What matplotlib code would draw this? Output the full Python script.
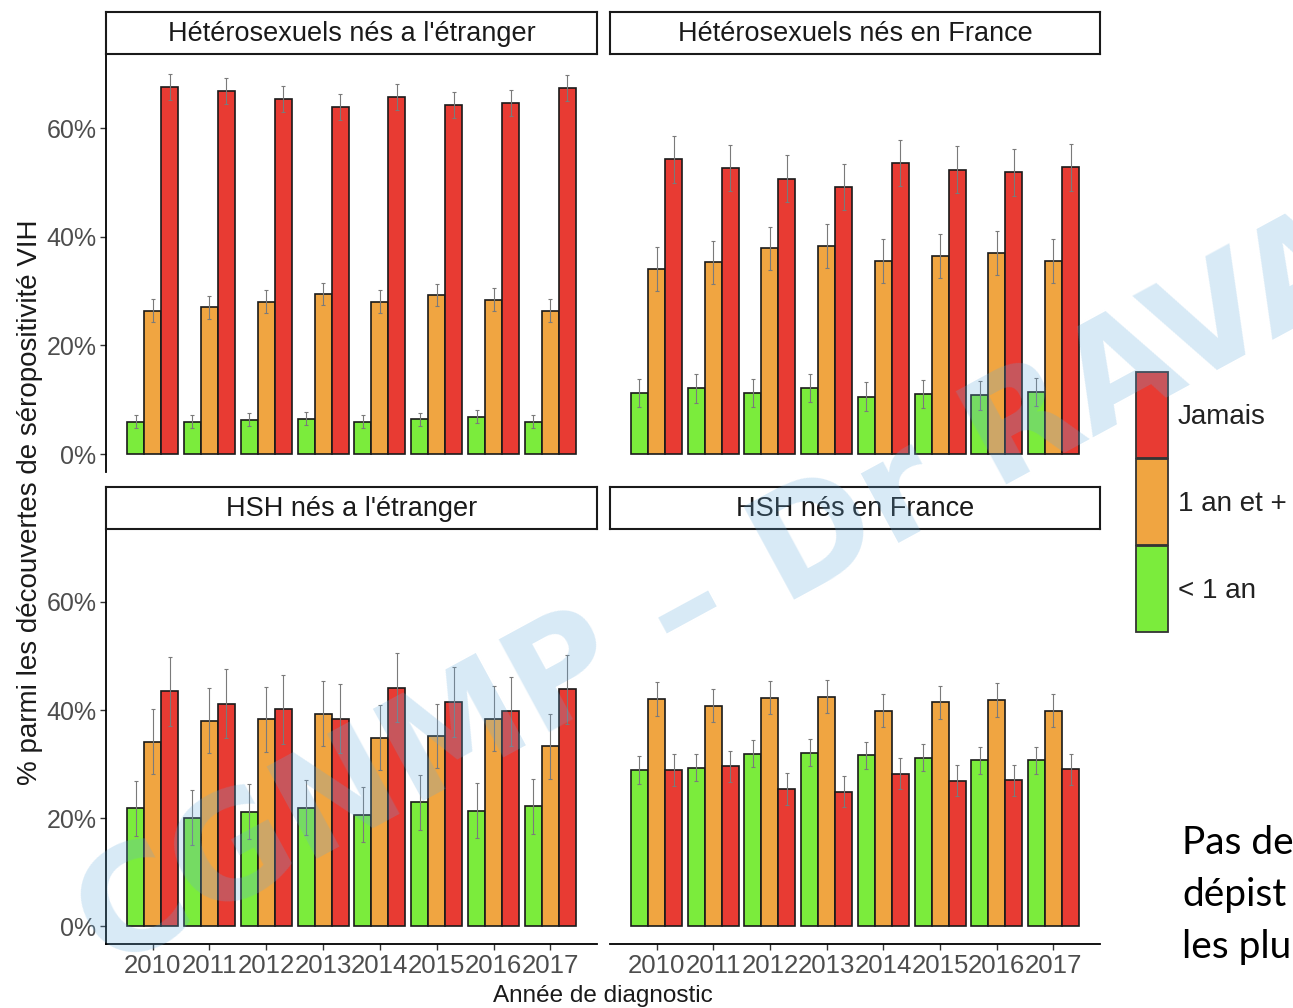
import numpy as np
import matplotlib.pyplot as plt
from matplotlib.patches import Rectangle

plt.rcParams['font.family'] = ['Liberation Sans', 'DejaVu Sans']

years = ['2010', '2011', '2012', '2013', '2014', '2015', '2016', '2017']
categories = ['< 1 an', '1 an et +', 'Jamais']
colors = ['#7BEC3C', '#F0A541', '#E83B33']

panel_titles = ["Hétérosexuels nés a l'étranger", "Hétérosexuels nés en France",
                "HSH nés a l'étranger", "HSH nés en France"]

# Hétérosexuels nés a l'étranger
het_etr_moins1 = [6.0, 6.0, 6.3, 6.5, 6.0, 6.4, 6.9, 6.0]
het_etr_1plus = [26.4, 27.0, 28.1, 29.5, 28.1, 29.3, 28.4, 26.4]
het_etr_jamais = [67.6, 66.8, 65.4, 64.0, 65.8, 64.3, 64.7, 67.4]
het_etr_err = [1.2, 2.1, 2.4]

# Hétérosexuels nés en France
het_fr_moins1 = [11.3, 12.1, 11.3, 12.2, 10.6, 11.0, 10.8, 11.4]
het_fr_1plus = [34.1, 35.3, 37.9, 38.3, 35.6, 36.5, 37.0, 35.6]
het_fr_jamais = [54.3, 52.7, 50.7, 49.2, 53.6, 52.4, 51.9, 52.8]
het_fr_err = [2.6, 4.0, 4.3]

# HSH nés a l'étranger
hsh_etr_moins1 = [21.8, 20.1, 21.2, 21.9, 20.6, 22.9, 21.4, 22.2]
hsh_etr_1plus = [34.1, 38.0, 38.3, 39.3, 34.9, 35.2, 38.4, 33.3]
hsh_etr_jamais = [43.5, 41.2, 40.1, 38.4, 44.1, 41.5, 39.8, 43.8]
hsh_etr_err = [5.1, 6.0, 6.4]

# HSH nés en France
hsh_fr_moins1 = [28.9, 29.3, 31.9, 32.1, 31.6, 31.2, 30.7, 30.7]
hsh_fr_1plus = [42.0, 40.8, 42.3, 42.5, 39.9, 41.4, 41.9, 39.9]
hsh_fr_jamais = [28.9, 29.6, 25.4, 24.9, 28.2, 26.9, 27.0, 29.0]
hsh_fr_err = [2.5, 3.1, 2.9]

panel_data = [
    ([het_etr_moins1, het_etr_1plus, het_etr_jamais], het_etr_err),
    ([het_fr_moins1, het_fr_1plus, het_fr_jamais], het_fr_err),
    ([hsh_etr_moins1, hsh_etr_1plus, hsh_etr_jamais], hsh_etr_err),
    ([hsh_fr_moins1, hsh_fr_1plus, hsh_fr_jamais], hsh_fr_err),
]

W, H = 1293, 1008
fig = plt.figure(figsize=(W / 100, H / 100), dpi=100)


def box(x0, y0, x1, y1):
    return [x0 / W, 1 - y1 / H, (x1 - x0) / W, (y1 - y0) / H]


panel_px = [(106, 55, 597, 472), (610, 55, 1100, 472),
            (106, 529, 597, 944), (610, 529, 1100, 944)]
strip_px = [(106, 12, 597, 54), (610, 12, 1100, 54),
            (106, 487, 597, 529), (610, 487, 1100, 529)]

x = np.arange(1, len(years) + 1)
bw = 0.3
for i, (series, err) in enumerate(panel_data):
    ax = fig.add_axes(box(*panel_px[i]))
    for j, vals in enumerate(series):
        ax.bar(x + (j - 1) * bw, vals, bw, color=colors[j], edgecolor='#1a1a1a',
               linewidth=1.2, zorder=2)
        ax.errorbar(x + (j - 1) * bw, vals, yerr=err[j], fmt='none',
                    ecolor='#7a7a7a', elinewidth=0.8, capsize=1.5, capthick=0.8, zorder=3)
    ax.set_xlim(0.18, 8.82)
    ax.set_ylim(-3.3, 73.5)
    for s in ['top', 'right']:
        ax.spines[s].set_visible(False)
    left_col = i % 2 == 0
    bottom_row = i >= 2
    ax.spines['left'].set_visible(left_col)
    ax.spines['bottom'].set_visible(bottom_row)
    ax.spines['left'].set_linewidth(1.3)
    ax.spines['bottom'].set_linewidth(1.3)
    ax.set_yticks([0, 20, 40, 60])
    ax.set_xticks(x)
    if left_col:
        ax.set_yticklabels(['0%', '20%', '40%', '60%'])
    else:
        ax.tick_params(axis='y', left=False, labelleft=False)
    if bottom_row:
        ax.set_xticklabels(years)
    else:
        ax.tick_params(axis='x', bottom=False, labelbottom=False)
    ax.tick_params(axis='y', labelsize=18)
    ax.tick_params(axis='x', labelsize=18.5)
    ax.tick_params(labelcolor='#4D4D4D', color='#333333',
                   length=4, width=1, pad=3)

    sax = fig.add_axes(box(*strip_px[i]))
    sax.set_xticks([])
    sax.set_yticks([])
    for s in sax.spines.values():
        s.set_linewidth(1.5)
        s.set_color('#1a1a1a')
    sax.text(0.5, 0.48, panel_titles[i], ha='center', va='center',
             fontsize=19.5, color='#1a1a1a', transform=sax.transAxes)

fig.text(30 / W, 1 - 502 / H, '% parmi les découvertes de séropositivité VIH',
         rotation=90, ha='center', va='center', fontsize=20, color='#1a1a1a')
fig.text(603 / W, 1 - 996 / H, 'Année de diagnostic', ha='center', va='center',
         fontsize=17.5, color='#1a1a1a')

# legend
lax = fig.add_axes(box(1125, 360, 1293, 645))
lax.set_xlim(1125, 1293)
lax.set_ylim(645, 360)
lax.axis('off')
key_y = [372, 459, 546]
leg_order = [2, 1, 0]
for k, j in enumerate(leg_order):
    lax.add_patch(Rectangle((1136, key_y[k]), 32, 86, facecolor=colors[j],
                            edgecolor='#333333', linewidth=1.3))
    lax.text(1178, key_y[k] + 45, categories[j], ha='left', va='center',
             fontsize=20, color='#222222')

# side text (cut off in the source)
side_lines = ['Pas de', 'dépist', 'les plu']
for k, line in enumerate(side_lines):
    fig.text(1182 / W, 1 - (854 + 52 * k) / H, line, ha='left', va='baseline',
             fontsize=28, family=['Lato', 'DejaVu Sans'], color='black')

# watermark
fig.text(108 / W, 1 - 972 / H, 'CGNMP – Dr RAVA', rotation=28.5, rotation_mode='anchor',
         ha='left', va='baseline', fontsize=104, fontweight='bold',
         family=['DejaVu Sans'], color='#64AADC', alpha=0.25, zorder=10)

fig.savefig('out.png', dpi=100)
